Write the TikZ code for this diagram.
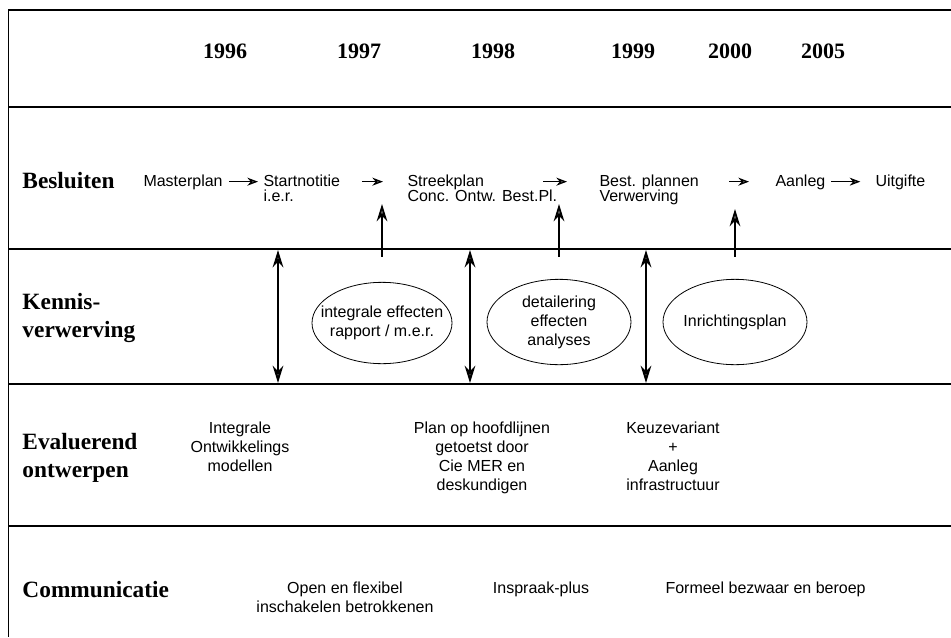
\documentclass[tikz,border=0pt]{standalone}
\usepackage{fontspec}
\setmainfont{Liberation Serif}
\setsansfont{Liberation Sans}
\usetikzlibrary{arrows.meta,shapes.geometric,positioning}

\tikzset{every picture/.style={line width=0.75pt}}
\tikzset{
	rowlabel/.style={anchor=west, align=left, inner sep=0pt, font=\fontsize{17.5}{21}\selectfont\bfseries},
	yearlabel/.style={inner sep=0pt, font=\fontsize{16.5}{19}\selectfont\bfseries},
	item/.style={inner sep=0pt, text height=9pt, text depth=2.5pt, font=\sffamily\fontsize{12}{11.25}\selectfont},
	block/.style={inner sep=0pt, align=center, font=\sffamily\fontsize{12}{14.25}\selectfont},
	oval/.style={draw, ellipse, line width=0.6pt, inner sep=0pt, minimum width=106pt, minimum height=62pt},
	smallarr/.style={-{Stealth[length=8pt,width=6pt,fill=black!60]}, line width=0.9pt},
	uparr/.style={-{Stealth[length=13pt,width=8pt,fill=black!55]}, line width=1.3pt},
	dblarr/.style={{Stealth[length=13pt,width=8pt,fill=black!55]}-{Stealth[length=13pt,width=8pt,fill=black!55]}, line width=1.5pt},
	rowline/.style={line width=1.5pt}}

\begin{document}
\begin{tikzpicture}[x=0.75pt,y=0.75pt,yscale=-1,xscale=1]
	\useasboundingbox (0,0) rectangle (951,637);

	%Straight Lines: frame and rows
	\draw [line width=0.5pt] (8,10) -- (8,637) ;
	\draw [rowline] (8,10) -- (951,10) ;
	\draw [rowline] (8,107) -- (951,107) ;
	\draw [rowline] (8,249) -- (951,249) ;
	\draw [rowline] (8,384) -- (951,384) ;
	\draw [rowline] (8,526) -- (951,526) ;

	% Text Node: years
	\node [yearlabel] (y1996) at (225,51) {1996};
	\node [yearlabel] (y1997) at (359,51) {1997};
	\node [yearlabel] (y1998) at (493,51) {1998};
	\node [yearlabel] (y1999) at (633,51) {1999};
	\node [yearlabel] (y2000) at (730,51) {2000};
	\node [yearlabel] (y2005) at (823,51) {2005};

	% Text Node: row labels
	\node [rowlabel] (besluiten) at (22,181) {Besluiten};
	\node [rowlabel] (kennis) at (22,318) {Kennis-\\verwerving};
	\node [rowlabel] (evaluerend) at (22,458) {Evaluerend\\ontwerpen};
	\node [rowlabel] (communicatie) at (22,590) {Communicatie};

	% Text Node: besluiten
	\node [item, anchor=base west] (masterplan) at (143,186) {Masterplan};
	\node [item, anchor=base west] (startnotitie) at (263,186) {Startnotitie};
	\node [item, anchor=base west] (ier) at (263,201) {i.e.r.};
	\node [item, anchor=base west] (streekplan) at (407,186) {Streekplan};
	\node [item, anchor=base west] (conc) at (407,201) {Conc. Ontw. Best.Pl.};
	\node [item, anchor=base west] (bestplannen) at (599,186) {Best. plannen};
	\node [item, anchor=base west] (verwerving) at (599,201) {Verwerving};
	\node [item, anchor=base west] (aanleg) at (775,186) {Aanleg};
	\node [item, anchor=base west] (uitgifte) at (875,186) {Uitgifte};

	%Straight Lines: besluiten arrows
	\draw [smallarr, shorten <=4.5pt, shorten >=3.75pt] (masterplan) -- (startnotitie) ;
	\draw [smallarr, shorten <=16pt, shorten >=18pt] (startnotitie) -- (streekplan) ;
	\draw [smallarr, shorten <=44pt, shorten >=24pt] (streekplan) -- (bestplannen) ;
	\draw [smallarr, shorten <=22.5pt, shorten >=19.5pt] (bestplannen) -- (aanleg) ;
	\draw [smallarr, shorten <=4pt, shorten >=11pt] (aanleg) -- (uitgifte) ;

	%Shape: Ellipses
	\node [oval, minimum width=105pt, minimum height=61pt] (ier-oval) at (382,323) {};
	\node [oval, minimum width=108pt, minimum height=64pt] (detail-oval) at (559,322) {};
	\node [oval, minimum width=108pt, minimum height=64pt] (inricht-oval) at (735,322) {};

	% Text Node: ellipse texts
	\node [block] (ier-text) at (ier-oval) {integrale effecten\\rapport / m.e.r.};
	\node [block] (detail-text) at (detail-oval) {detailering\\effecten\\analyses};
	\node [block] (inricht-text) at (inricht-oval) {Inrichtingsplan};

	%Straight Lines: up arrows
	\coordinate (up1) at (382,204);
	\coordinate (up2) at (559,204);
	\coordinate (up3) at (735,209);
	\draw [uparr, shorten <=18.75pt] (ier-oval.north) -- (up1) ;
	\draw [uparr, shorten <=16.5pt] (detail-oval.north) -- (up2) ;
	\draw [uparr, shorten <=16.5pt] (inricht-oval.north) -- (up3) ;

	%Straight Lines: double arrows
	\coordinate (d1a) at (278,250);
	\coordinate (d1b) at (278,383);
	\coordinate (d2a) at (470,250);
	\coordinate (d2b) at (470,383);
	\coordinate (d3a) at (646,250);
	\coordinate (d3b) at (646,383);
	\draw [dblarr] (d1a) -- (d1b) ;
	\draw [dblarr] (d2a) -- (d2b) ;
	\draw [dblarr] (d3a) -- (d3b) ;

	% Text Node: evaluerend ontwerpen
	\node [block, anchor=north] (modellen) at (240,421) {Integrale\\Ontwikkelings\\modellen};
	\node [block, anchor=north] (hoofdlijnen) at (482,421) {Plan op hoofdlijnen\\getoetst door\\Cie MER en\\deskundigen};
	\node [block, anchor=north] (keuze) at (673,421) {Keuzevariant\\+\\Aanleg\\infrastructuur};

	% Text Node: communicatie
	\node [block, anchor=north] (open) at (345,581) {Open en flexibel\\inschakelen betrokkenen};
	\node [block, anchor=north] (inspraak) at (541,581) {Inspraak-plus};
	\node [block, anchor=north west] (formeel) at (665,581) {Formeel bezwaar en beroep};

\end{tikzpicture}
\end{document}
